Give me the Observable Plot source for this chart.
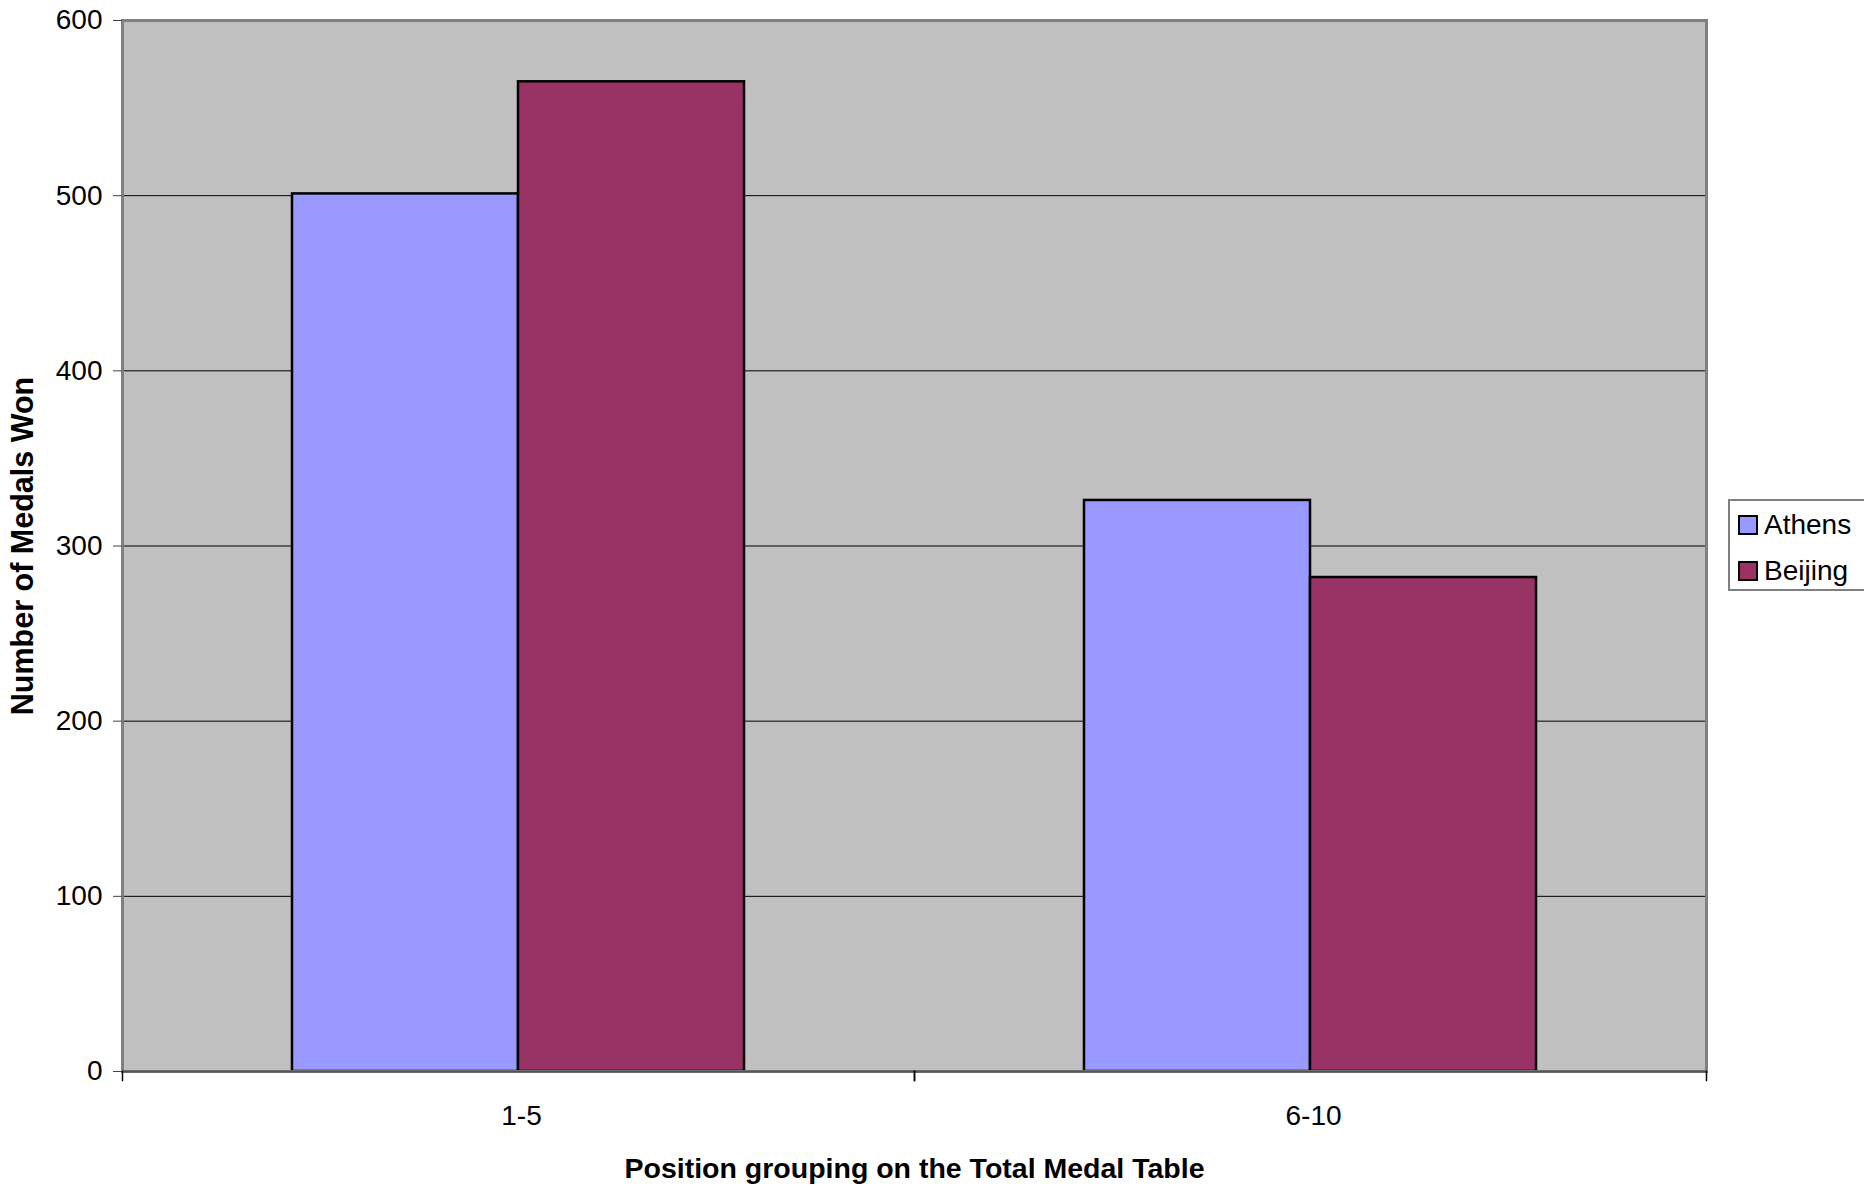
<!DOCTYPE html>
<html>
<head>
<meta charset="utf-8">
<script src="https://cdn.jsdelivr.net/npm/d3@7"></script>
<script src="https://cdn.jsdelivr.net/npm/@observablehq/plot@0.6"></script>
<style>
  html, body { margin: 0; padding: 0; background: #fff; overflow: hidden; }
  #wrap { position: relative; width: 1864px; height: 1186px; }
  #legend {
    position: absolute; left: 1728px; top: 499px; width: 160px; height: 92px;
    border: 2px solid #808080; background: #fff; box-sizing: border-box;
    font-family: "Liberation Sans", Arial, sans-serif; font-size: 28px; color: #000;
  }
  .item { position: absolute; left: 8px; display: flex; align-items: center; }
  .sw { width: 16px; height: 16px; border: 2px solid #000; margin-right: 6px; }
</style>
</head>
<body>
<div id="wrap"><div id="chart"></div><div id="legend"></div></div>
<script>
const categories = ["1-5", "6-10"];
const series = ["Athens", "Beijing"];
const athens = [501, 326];
const beijing = [565, 282];
const colors = ["#9999ff", "#993366"];
const yTicks = [0, 100, 200, 300, 400, 500, 600];
const xTitle = "Position grouping on the Total Medal Table";
const yTitle = "Number of Medals Won";

const values = {Athens: athens, Beijing: beijing};
const data = categories.flatMap((c, i) => series.map(s => ({category: c, series: s, value: values[s][i]})));

const chart = Plot.plot({
  width: 1864,
  height: 1186,
  marginLeft: 121,
  marginRight: 158,
  marginTop: 20,
  marginBottom: 115,
  style: {fontFamily: "'Liberation Sans', Arial, sans-serif", fontSize: "28px", color: "#000", background: "transparent"},
  fx: {domain: categories, padding: 0},
  x: {domain: series, paddingInner: 0, paddingOuter: 0.75, axis: null},
  y: {domain: [0, 600]},
  color: {domain: series, range: colors},
  marks: [
    Plot.frame({facet: "super", fill: "#c0c0c0"}),
    Plot.ruleY(yTicks.slice(1, -1), {stroke: "#000", strokeWidth: 1}),
    Plot.barY(data, {fx: "category", x: "series", y: "value", fill: "series", stroke: "#000", strokeWidth: 2.5}),
    Plot.frame({facet: "super", stroke: "#808080", strokeWidth: 3}),
    Plot.ruleY([0], {stroke: "#555", strokeWidth: 2}),
    Plot.frame({anchor: "left", insetTop: 1051, insetBottom: -9, stroke: "#000", strokeWidth: 1.5}),
    Plot.frame({anchor: "right", insetTop: 1051, insetBottom: -9, stroke: "#000", strokeWidth: 1.5}),
    Plot.axisY({ticks: yTicks, tickSize: 9, tickPadding: 11, label: null, stroke: "#444"}),
    Plot.axisFx({anchor: "bottom", tickSize: 0, tickPadding: 34, dx: 3, label: null}),
    Plot.text([xTitle], {facet: "super", frameAnchor: "bottom", dy: 97, fontWeight: "bold", fontSize: 28.5, lineAnchor: "middle"}),
    Plot.text([yTitle], {facet: "super", frameAnchor: "left", dx: -99, rotate: -90, textAnchor: "middle", fontWeight: "bold", fontSize: 30.5, lineAnchor: "middle"})
  ]
});
document.getElementById("chart").appendChild(chart);

const legend = document.getElementById("legend");
series.forEach((s, i) => {
  const item = document.createElement("div");
  item.className = "item";
  item.style.top = (8 + i * 46) + "px";
  const sw = document.createElement("div");
  sw.className = "sw";
  sw.style.background = colors[i];
  const label = document.createElement("span");
  label.textContent = s;
  item.appendChild(sw);
  item.appendChild(label);
  legend.appendChild(item);
});
</script>
</body>
</html>
